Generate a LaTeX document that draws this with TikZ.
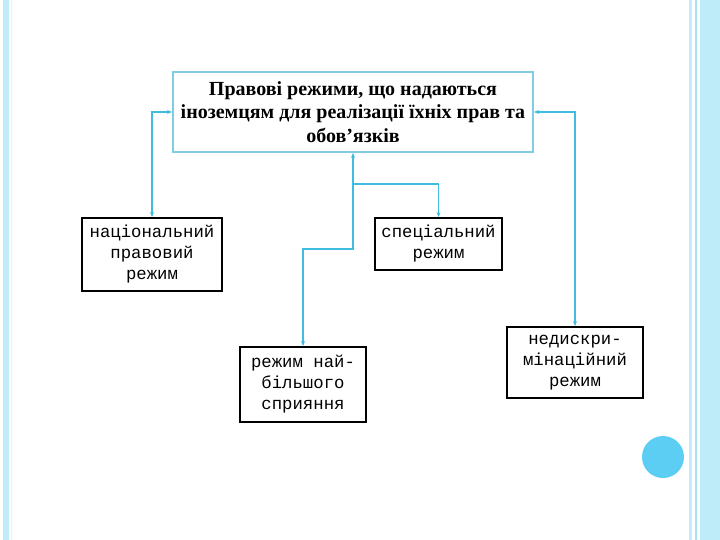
\documentclass[tikz,border=0pt]{standalone}
\usepackage{fontspec}
\setmainfont{Liberation Serif}
\newfontfamily\boxfont{Liberation Mono}
\usepackage{tikz}
\usetikzlibrary{arrows.meta}
\definecolor{linkcol}{RGB}{64,188,222}
\definecolor{framecol}{RGB}{128,204,224}
\definecolor{stripcol}{RGB}{190,236,248}
\definecolor{dotcol}{RGB}{92,206,244}
\tikzset{
  regime/.style = {draw, line width=1.8pt, inner sep=0pt, align=center,
    font=\boxfont\fontsize{17.3}{21}\selectfont},
  link/.style = {draw=linkcol, line width=1.2pt, {Stealth[length=5pt,width=4pt]}-{Stealth[length=5pt,width=4pt]}},
  linkone/.style = {draw=linkcol, line width=1.2pt, -{Stealth[length=5pt,width=4pt]}}
}

\begin{document}
\begin{tikzpicture}[x=1pt, y=-1pt]
    \useasboundingbox (0, 0) rectangle (720, 540);
    % side stripes
    \fill [stripcol] (3, 0) rectangle (9, 540);
    \draw [red!8, line width=1pt] (11, 0) -- (11, 540);
    \fill [stripcol] (689, 0) rectangle (692, 540);
    \fill [stripcol!80!linkcol] (695, 0) rectangle (697, 540);
    \fill [stripcol] (700, 0) rectangle (720, 540);
    \fill [dotcol] (663, 457) circle (21);
    % boxes
    \node [draw=framecol, line width=1.8pt, minimum width=360, minimum height=80, inner sep=0pt, align=center,
      font=\bfseries\fontsize{20}{23.5}\selectfont] (top) at (353, 112)
      {Правові режими, що надаються\\іноземцям для реалізації їхніх прав та\\обов’язків};
    \node [regime, minimum width=140, minimum height=73] (nat) at (152, 254.5) {національний\\правовий\\режим};
    \node [regime, minimum width=127, minimum height=52] (spec) at (438.5, 244) {спеціальний\\режим};
    \node [regime, minimum width=126, minimum height=75] (fav) at (303, 384.5) {режим най-\\більшого\\сприяння};
    \node [regime, minimum width=136, minimum height=71] (ned) at (575, 362.5) {недискри-\\мінаційний\\режим};
    % connectors
    \coordinate (jspec) at (353, 184);
    \coordinate (jfav) at (353, 249);
    \draw [link] (top.west) -| (nat.north);
    \draw [link] (top.east) -| (ned.north);
    \draw [link] (top.south) -- (jfav) -| (fav.north);
    \draw [linkone] (jspec) -| (spec.north);
\end{tikzpicture}
\end{document}
